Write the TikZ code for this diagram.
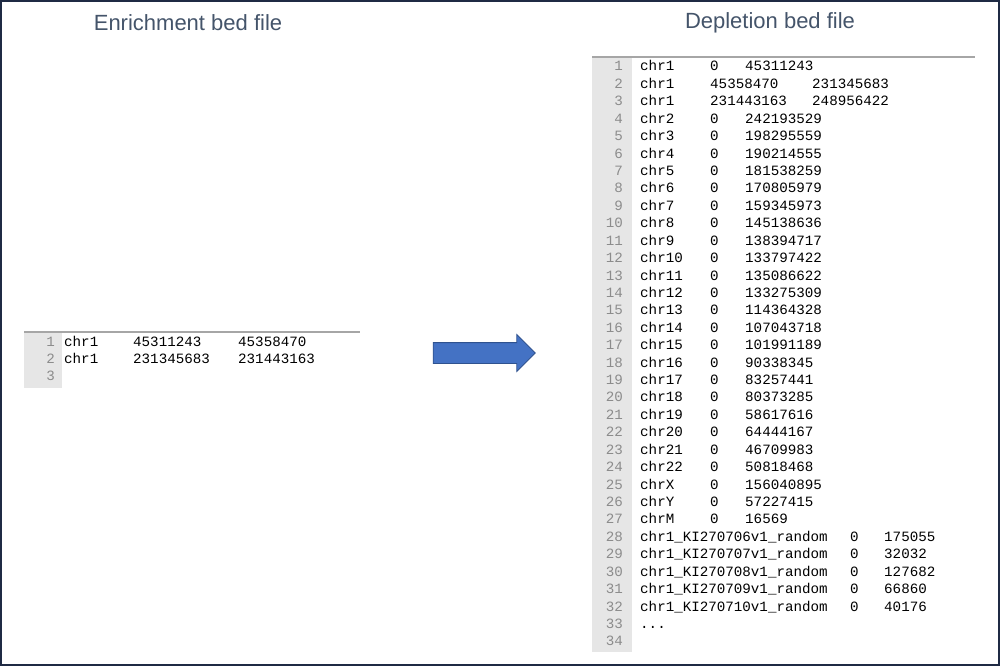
\documentclass[tikz,border=0pt]{standalone}
\usepackage{fontspec}
\usetikzlibrary{shapes.arrows}
\setmainfont{Liberation Sans}
\newfontfamily\cour{Liberation Mono}
\definecolor{ttl}{HTML}{44546A}
\definecolor{gut}{HTML}{E6E6E6}
\definecolor{lnum}{HTML}{8C8C8C}
\definecolor{arr}{HTML}{4472C4}
\definecolor{arrd}{HTML}{2F528F}
\definecolor{frame}{HTML}{1F2A44}
\tikzset{
  title/.style={font=\fontsize{22}{25}\selectfont, text=ttl, anchor=center, inner sep=0},
  code/.style={font=\cour\fontsize{14.2}{16}\selectfont, anchor=base west, inner sep=0},
  lno/.style={font=\cour\fontsize{14.2}{16}\selectfont, text=lnum, anchor=base east, inner sep=0},
}
\begin{document}
\begin{tikzpicture}[x=1pt,y=-1pt]
\useasboundingbox (0,0) rectangle (1000,666);
\draw[frame, line width=2pt] (1,1) rectangle (999,665);
\node[title] (t1) at (188,23) {Enrichment bed file};
\node[title] (t2) at (770,23) {Depletion bed file};
% left panel
\fill[gut] (24,333) rectangle (62,388);
\draw[gray!70, line width=1.2pt] (24,332) -- (360,332);
\foreach \i/\a/\b/\c [count=\n] in {1/chr1/45311243/45358470, 2/chr1/231345683/231443163, 3///}{
  \pgfmathsetmacro\yy{341+(\n-1)*17.2+5}
  \node[lno] (ln\n) at (55,\yy) {\i};
  \node[code] (la\n) at (64,\yy) {\a};
  \node[code] (lb\n) at (133,\yy) {\b};
  \node[code] (lc\n) at (238,\yy) {\c};
}
% arrow
\node[draw=arrd, fill=arr, line width=0.8pt, single arrow, minimum height=102pt, single arrow head extend=8pt, inner xsep=0pt, inner ysep=10pt, text height=0pt, text depth=0pt] (arrow) at (479,353) {};
% right panel
\fill[gut] (592,58) rectangle (632,652);
\draw[gray!70, line width=1.2pt] (592,57) -- (975,57);
\foreach \a/\b/\c [count=\n] in {
 chr1/0/45311243, chr1/45358470/231345683, chr1/231443163/248956422,
 chr2/0/242193529, chr3/0/198295559, chr4/0/190214555, chr5/0/181538259,
 chr6/0/170805979, chr7/0/159345973, chr8/0/145138636, chr9/0/138394717,
 chr10/0/133797422, chr11/0/135086622, chr12/0/133275309, chr13/0/114364328,
 chr14/0/107043718, chr15/0/101991189, chr16/0/90338345, chr17/0/83257441,
 chr18/0/80373285, chr19/0/58617616, chr20/0/64444167, chr21/0/46709983,
 chr22/0/50818468, chrX/0/156040895, chrY/0/57227415, chrM/0/16569}{
  \pgfmathsetmacro\yy{66+(\n-1)*17.42+5}
  \node[lno] (rn\n) at (623,\yy) {\n};
  \node[code] (ra\n) at (640,\yy) {\a};
  \ifnum\n=2 \node[code] (rb\n) at (710,\yy) {\b}; \node[code] (rc\n) at (812,\yy) {\c};
  \else\ifnum\n=3 \node[code] (rb\n) at (710,\yy) {\b}; \node[code] (rc\n) at (812,\yy) {\c};
  \else \node[code] (rb\n) at (710,\yy) {\b}; \node[code] (rc\n) at (745,\yy) {\c}; \fi\fi
}
\foreach \c [count=\k] in {175055,32032,127682,66860,40176}{
  \pgfmathtruncatemacro\n{27+\k}
  \pgfmathsetmacro\yy{66+(\n-1)*17.42+5}
  \pgfmathtruncatemacro\id{705+\k}
  \node[lno] (rn\n) at (623,\yy) {\n};
  \node[code] (ra\n) at (640,\yy) {chr1\_KI270\id v1\_random};
  \node[code] (rb\n) at (850,\yy) {0};
  \node[code] (rc\n) at (884,\yy) {\c};
}
\pgfmathsetmacro\yy{66+32*17.42+5}
\node[lno] (rn33) at (623,\yy) {33};
\node[code] (ra33) at (640,\yy) {...};
\pgfmathsetmacro\yy{66+33*17.42+5}
\node[lno] (rn34) at (623,\yy) {34};
\end{tikzpicture}
\end{document}
